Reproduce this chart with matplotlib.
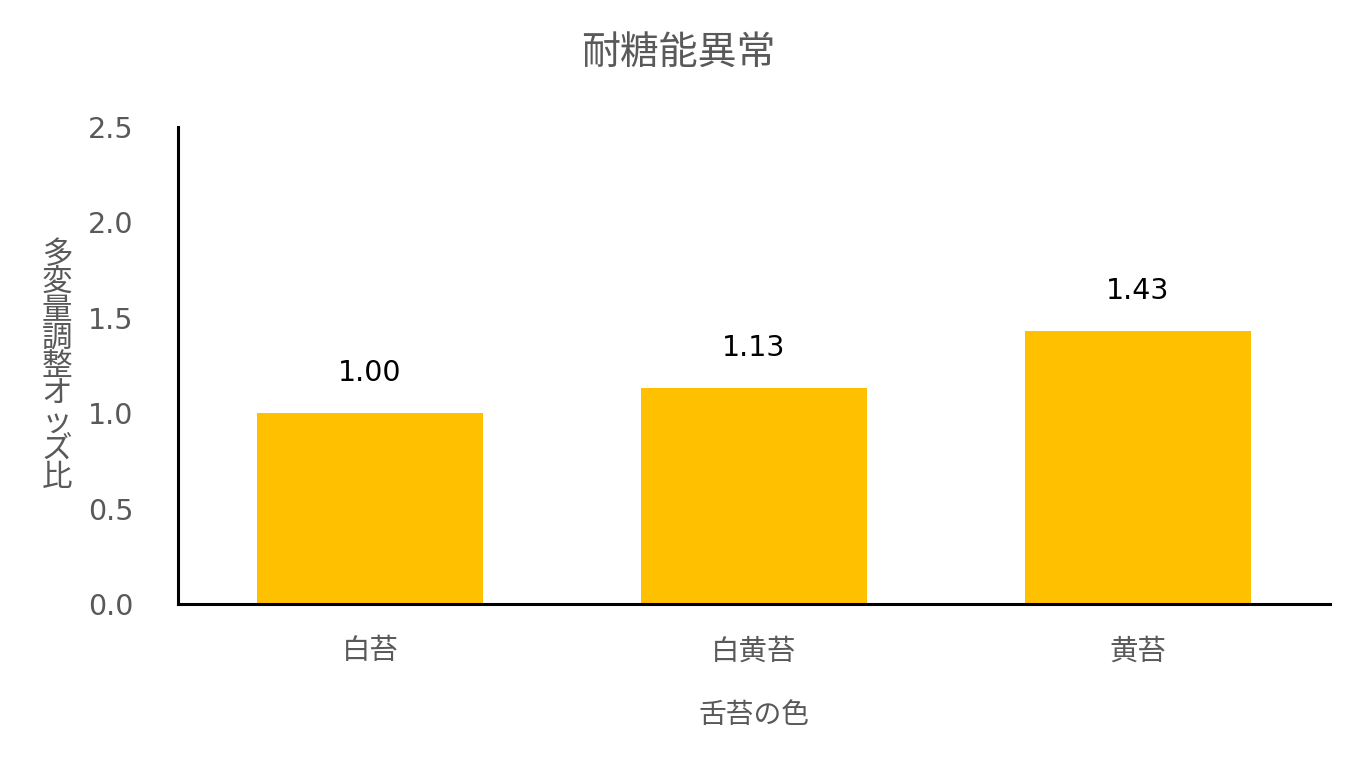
import matplotlib.pyplot as plt

plt.rcParams['font.family'] = ['DejaVu Sans', 'Noto Sans CJK JP']

categories = ['白苔', '白黄苔', '黄苔']
odds_ratio = [1.00, 1.13, 1.43]
value_labels = ['1.00', '1.13', '1.43']
y_ticks = [0.0, 0.5, 1.0, 1.5, 2.0, 2.5]

gray = '#595959'

fig = plt.figure(figsize=(13.56, 7.69), dpi=100)
ax = fig.add_axes([0.1313, 0.2146, 0.8495, 0.6203])

x = range(len(categories))
bars = ax.bar(x, odds_ratio, width=0.587, color='#FFC000', zorder=2)
for b, lab in zip(bars, value_labels):
    ax.annotate(lab, (b.get_x() + b.get_width() / 2, b.get_height()),
                xytext=(0, 19), textcoords='offset points',
                ha='center', va='bottom', fontsize=20.5, color='black')

ax.set_xlim(-0.5, 2.5)
ax.set_ylim(0, 2.5)
ax.set_yticks(y_ticks)
ax.set_yticklabels([f'{t:.1f}' for t in y_ticks])
ax.set_xticks(list(x))
ax.set_xticklabels(categories)
ax.tick_params(axis='both', length=0, labelsize=20.5, labelcolor=gray)
ax.tick_params(axis='y', pad=32)
ax.tick_params(axis='x', pad=24)

for s in ['top', 'right']:
    ax.spines[s].set_visible(False)
for s in ['left', 'bottom']:
    ax.spines[s].set_linewidth(2.2)
    ax.spines[s].set_color('black')

ax.set_xlabel('舌苔の色', fontsize=20, color=gray, labelpad=26)
fig.text(0.042, 0.524, '\n'.join('多変量調整オッズ比'), fontsize=22, color=gray,
         ha='center', va='center', linespacing=0.95)
fig.text(0.5, 0.932, '耐糖能異常', fontsize=28, color=gray, ha='center', va='center')

fig.savefig('out.png', dpi=100)
